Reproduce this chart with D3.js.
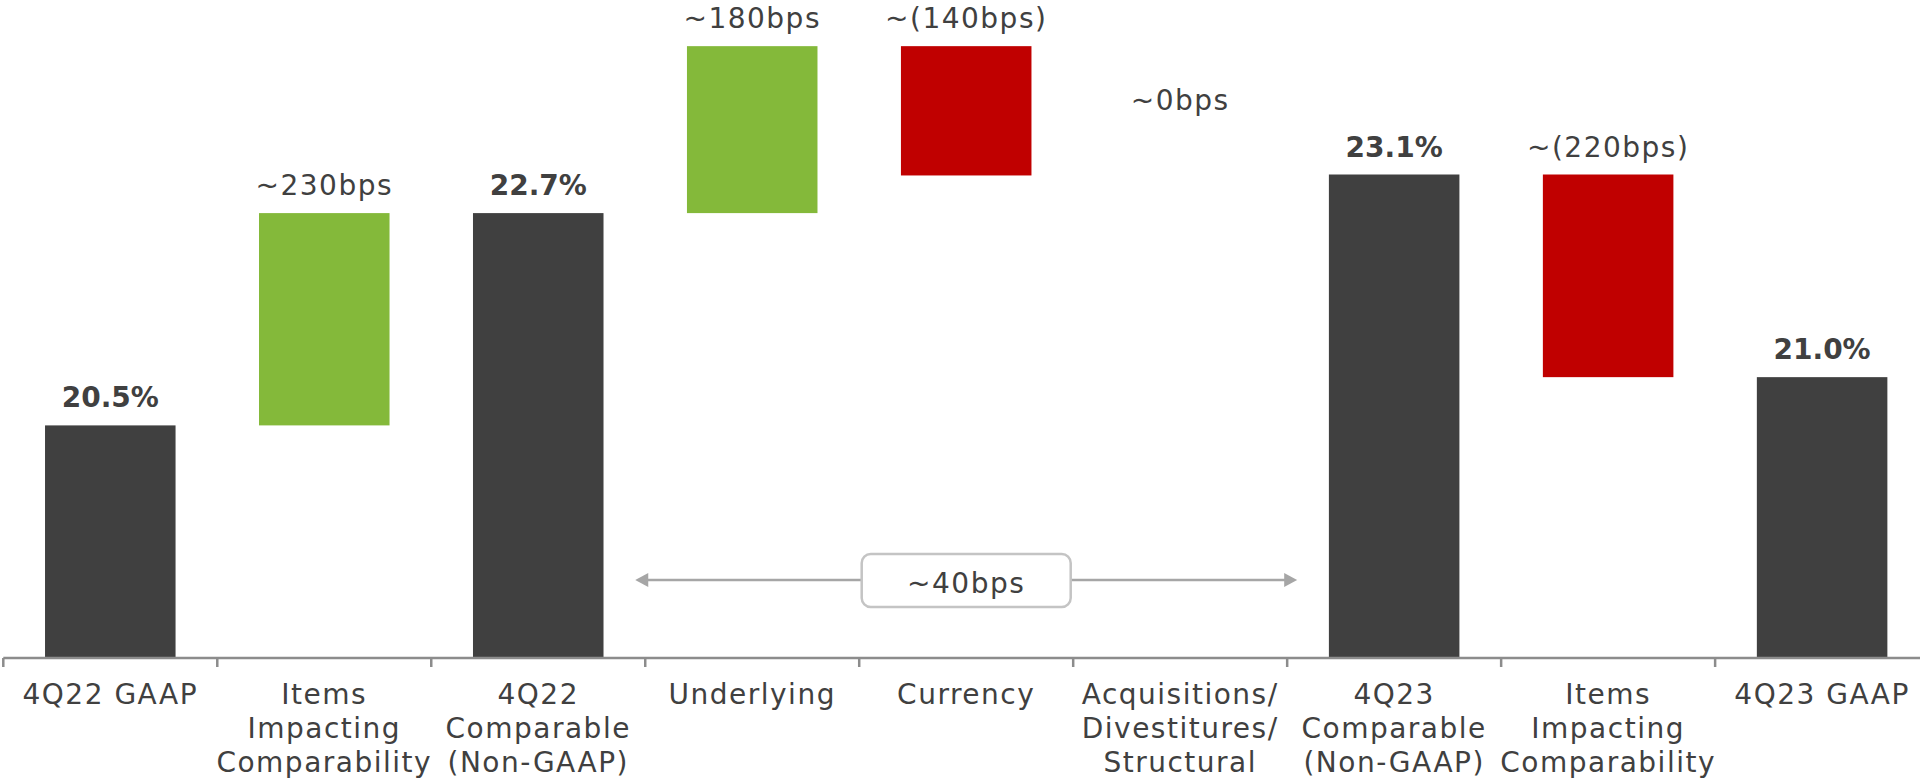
<!DOCTYPE html>
<html>
<head>
<meta charset="utf-8">
<script src="https://cdn.jsdelivr.net/npm/d3@7/dist/d3.min.js"></script>
<style>
  html, body { margin: 0; padding: 0; background: #ffffff; }
  svg { display: block; }
  text { font-family: "DejaVu Sans", sans-serif; }
</style>
</head>
<body>
<svg id="chart" width="1920" height="782"></svg>
<script>
// ---- Data ----
const categories = [
  "4Q22 GAAP",
  "Items\nImpacting\nComparability",
  "4Q22\nComparable\n(Non-GAAP)",
  "Underlying",
  "Currency",
  "Acquisitions/\nDivestitures/\nStructural",
  "4Q23\nComparable\n(Non-GAAP)",
  "Items\nImpacting\nComparability ",
  "4Q23 GAAP"
];
const values = [20.5, 2.2, 22.7, 1.73, -1.34, 0, 23.1, -2.1, 21.0];
const kinds = ["total", "delta", "total", "delta", "delta", "delta", "total", "delta", "total"];
const valueLabels = ["20.5%", "~230bps", "22.7%", "~180bps", "~(140bps)", "~0bps", "23.1%", "~(220bps)", "21.0%"];
const bracketLabel = "~40bps";
const bracketFrom = 3;   // first category index covered by bracket
const bracketTo = 5;     // last category index covered by bracket
const yDomain = [18.1, 24.5];

// ---- Styles ----
const colors = { total: "#404040", up: "#84b93a", down: "#c00000", text: "#404040", axis: "#8c8c8c", bracket: "#a6a6a6", box: "#c4c4c4" };

// ---- Build waterfall segments ----
let level = 0;
const segs = categories.map((c, i) => {
  let lo, hi, top;
  if (kinds[i] === "total") {
    level = values[i];
    lo = yDomain[0]; hi = values[i]; top = hi;
  } else {
    const start = level;
    level = level + values[i];
    lo = Math.min(start, level); hi = Math.max(start, level); top = hi;
  }
  const color = kinds[i] === "total" ? colors.total : (values[i] >= 0 ? colors.up : colors.down);
  return { cat: c, lo, hi, top, color, kind: kinds[i], value: values[i], label: valueLabels[i] };
});

// ---- Scales ----
const svg = d3.select("#chart");
const x = d3.scaleBand().domain(categories).range([3.3, 1929.1]).paddingInner(0.39).paddingOuter(0.195);
const y = d3.scaleLinear().domain(yDomain).range([657, 39.4]);
const step = x.step();
const bandStart = c => x(c) - x.paddingInner() * step / 2;

// ---- Bars ----
svg.append("g").selectAll("rect").data(segs.filter(d => d.hi > d.lo)).join("rect")
  .attr("x", d => x(d.cat))
  .attr("width", x.bandwidth())
  .attr("y", d => y(d.hi))
  .attr("height", d => y(d.lo) - y(d.hi))
  .attr("fill", d => d.color);

// ---- Value labels ----
svg.append("g").selectAll("text").data(segs).join("text")
  .attr("x", d => x(d.cat) + x.bandwidth() / 2)
  .attr("y", d => d.hi === d.lo ? y(d.top) - 65 : y(d.top) - 18)
  .attr("text-anchor", "middle")
  .attr("font-size", 28)
  .attr("font-weight", d => d.kind === "total" ? "bold" : "normal")
  .attr("letter-spacing", d => d.kind === "total" ? "0px" : "1.5px")
  .attr("fill", colors.text)
  .text(d => d.label);

// ---- Axis ----
const axisY = 658;
const axisG = svg.append("g");
axisG.append("line")
  .attr("x1", x.range()[0]).attr("x2", 1920)
  .attr("y1", axisY).attr("y2", axisY)
  .attr("stroke", colors.axis).attr("stroke-width", 2.5);
axisG.selectAll("line.tick").data(categories).join("line")
  .attr("class", "tick")
  .attr("x1", d => bandStart(d)).attr("x2", d => bandStart(d))
  .attr("y1", axisY).attr("y2", axisY + 9)
  .attr("stroke", colors.axis).attr("stroke-width", 2.5);

const lab = axisG.selectAll("text.cat").data(categories).join("text")
  .attr("class", "cat")
  .attr("text-anchor", "middle")
  .attr("font-size", 28)
  .attr("letter-spacing", "1.5px")
  .attr("fill", colors.text)
  .attr("x", d => x(d) + x.bandwidth() / 2)
  .attr("y", 704);
lab.selectAll("tspan").data(d => d.trim().split("\n").map(t => ({ t, c: d }))).join("tspan")
  .attr("x", d => x(d.c) + x.bandwidth() / 2)
  .attr("dy", (d, i) => i === 0 ? 0 : 34)
  .text(d => d.t);

// ---- Bracket ----
const bY = 580;
const bx1 = bandStart(categories[bracketFrom]) - 10;
const bx2 = bandStart(categories[bracketTo]) + step + 10;
const bMid = (bx1 + bx2) / 2;
const boxW = 209, boxH = 53;
const bg = svg.append("g");
bg.append("line").attr("x1", bx1 + 11).attr("x2", bMid - boxW / 2).attr("y1", bY).attr("y2", bY)
  .attr("stroke", colors.bracket).attr("stroke-width", 2.5);
bg.append("line").attr("x1", bMid + boxW / 2).attr("x2", bx2 - 11).attr("y1", bY).attr("y2", bY)
  .attr("stroke", colors.bracket).attr("stroke-width", 2.5);
bg.append("path").attr("d", `M${bx1},${bY} L${bx1 + 13},${bY - 7} L${bx1 + 13},${bY + 7} Z`).attr("fill", colors.bracket);
bg.append("path").attr("d", `M${bx2},${bY} L${bx2 - 13},${bY - 7} L${bx2 - 13},${bY + 7} Z`).attr("fill", colors.bracket);
bg.append("rect")
  .attr("x", bMid - boxW / 2).attr("y", bY - boxH / 2 + 0.5)
  .attr("width", boxW).attr("height", boxH)
  .attr("rx", 9).attr("ry", 9)
  .attr("fill", "#ffffff").attr("stroke", colors.box).attr("stroke-width", 2.5);
bg.append("text")
  .attr("x", bMid).attr("y", bY + 13)
  .attr("text-anchor", "middle")
  .attr("font-size", 28)
  .attr("letter-spacing", "1.5px")
  .attr("fill", colors.text)
  .text(bracketLabel);
</script>
</body>
</html>
